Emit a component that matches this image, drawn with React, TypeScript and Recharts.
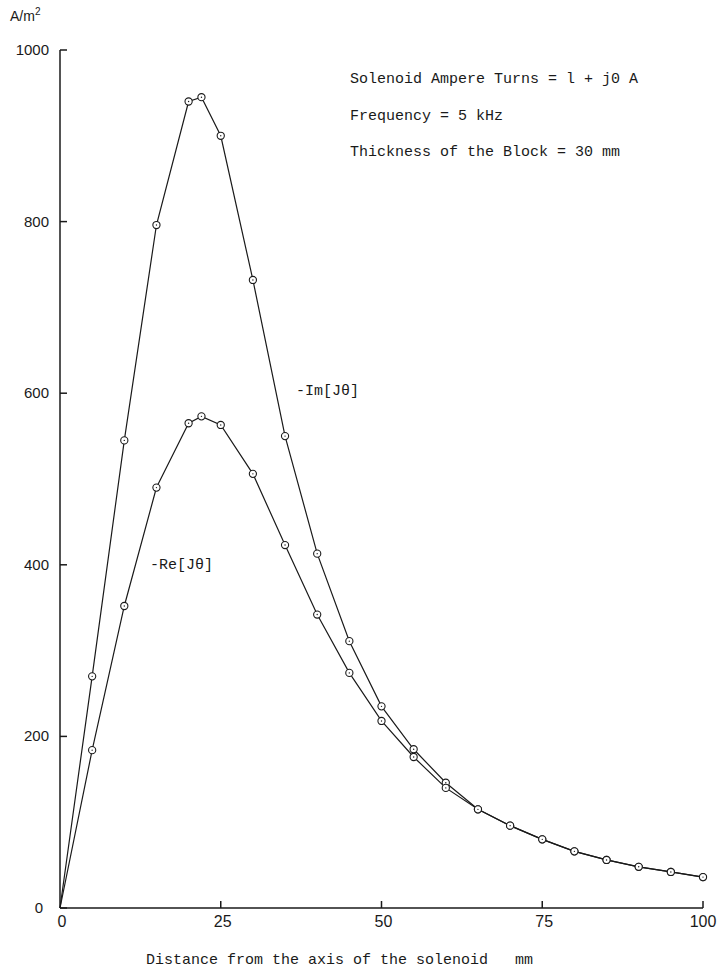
import { Line, LineChart, XAxis, YAxis } from "recharts";

// distance from solenoid axis (mm)
const xs = [0, 5, 10, 15, 20, 22, 25, 30, 35, 40, 45, 50, 55, 60, 65, 70, 75, 80, 85, 90, 95, 100];
// -Im[J theta], A/m^2
const imJ = [0, 270, 545, 796, 940, 945, 900, 732, 550, 413, 311, 235, 185, 146, 115, 96, 80, 66, 56, 48, 42, 36];
// -Re[J theta], A/m^2
const reJ = [0, 184, 352, 490, 565, 573, 563, 506, 423, 342, 274, 218, 176, 140, 115, 96, 80, 66, 56, 48, 42, 36];

const xTicks = [0, 25, 50, 75, 100];
const yTicks = [0, 200, 400, 600, 800, 1000];

const notes = [
  "Solenoid Ampere Turns = l + j0 A",
  "Frequency = 5 kHz",
  "Thickness of the Block = 30 mm",
];

const data = xs.map((x, i) => ({ x, im: imJ[i], re: reJ[i] }));

const ink = "#1a1a1a";
const mono = "'Liberation Mono', 'DejaVu Sans Mono', monospace";
const sans = "'Liberation Sans', Arial, sans-serif";

function YTick(props: any) {
  const { x, y, payload } = props;
  const v = payload.value;
  return (
    <g>
      <line x1={x} y1={y} x2={x + 7} y2={y} stroke={ink} strokeWidth={1.5} />
      <text x={v === 0 ? x - 17 : x - 11} y={y} dy={5} textAnchor="end" fontFamily={sans} fontSize={15} fill={ink}>
        {v}
      </text>
    </g>
  );
}

function XTick(props: any) {
  const { x, y, payload } = props;
  const v = payload.value;
  return (
    <g>
      {v !== 0 && <line x1={x} y1={y} x2={x} y2={y - 7} stroke={ink} strokeWidth={1.5} />}
      <text x={v === 100 ? x : x + 2} y={y + 19} textAnchor="middle" fontFamily={sans} fontSize={16} fill={ink}>
        {v}
      </text>
    </g>
  );
}

function RingDot(props: any) {
  const { cx, cy, payload, index } = props;
  if (payload.x === 0 || cx == null) return <g key={`d-${index}`} />;
  return (
    <g key={`d-${index}`}>
      <circle cx={cx} cy={cy} r={3.6} fill="#fff" stroke={ink} strokeWidth={1.1} />
      <circle cx={cx} cy={cy} r={0.7} fill={ink} />
    </g>
  );
}

export default function App() {
  return (
    <div style={{ position: "absolute", left: 0, top: 0, width: 718, height: 974, background: "#fff" }}>
      <LineChart width={718} height={974} data={data} margin={{ top: 50, right: 15, bottom: 0, left: 0 }}>
        <XAxis
          dataKey="x"
          type="number"
          domain={[0, 100]}
          ticks={xTicks}
          height={66}
          tickSize={0}
          tickMargin={0}
          tickLine={false}
          tick={<XTick />}
          axisLine={{ stroke: ink, strokeWidth: 1.5 }}
        />
        <YAxis
          type="number"
          domain={[0, 1000]}
          ticks={yTicks}
          width={60}
          tickSize={0}
          tickMargin={0}
          tickLine={false}
          tick={<YTick />}
          axisLine={{ stroke: ink, strokeWidth: 1.5 }}
        />
        <Line dataKey="im" type="linear" stroke={ink} strokeWidth={1.2} dot={RingDot} isAnimationActive={false} />
        <Line dataKey="re" type="linear" stroke={ink} strokeWidth={1.2} dot={RingDot} isAnimationActive={false} />
      </LineChart>
      <svg width={718} height={974} style={{ position: "absolute", left: 0, top: 0, pointerEvents: "none" }}>
        <text x={10} y={21} fontFamily={sans} fontSize={14} fill={ink}>
          A/m<tspan dy={-6} fontSize={10}>2</tspan>
        </text>
        {notes.map((n, i) => (
          <text key={n} x={350} y={83 + i * 36.5} fontFamily={mono} fontSize={15} fill={ink}>
            {n}
          </text>
        ))}
        <text x={296} y={395} fontFamily={mono} fontSize={15} fill={ink}>-Im[Jθ]</text>
        <text x={150} y={569} fontFamily={mono} fontSize={15} fill={ink}>-Re[Jθ]</text>
        <text x={146} y={964} fontFamily={mono} fontSize={15} fill={ink}>Distance from the axis of the solenoid</text>
        <text x={515} y={964} fontFamily={mono} fontSize={15} fill={ink}>mm</text>
      </svg>
    </div>
  );
}
